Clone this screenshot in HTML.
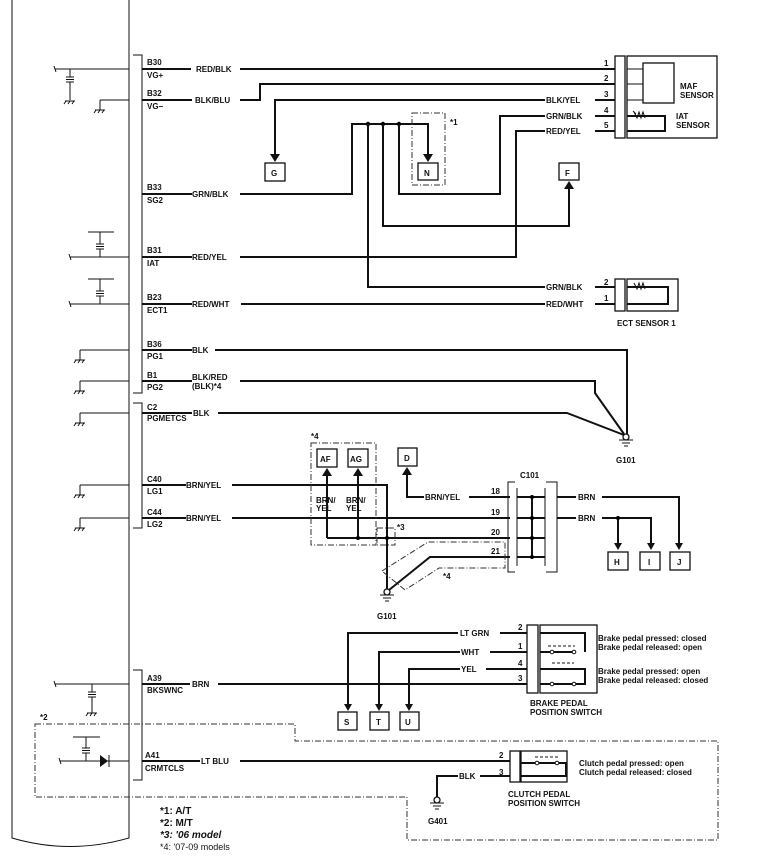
<!DOCTYPE html>
<html><head><style>
body{margin:0;background:#fff}
svg{display:block}
text{font-family:"Liberation Sans",Arial,sans-serif;font-weight:bold;font-size:8px;fill:#111}
.w{stroke:#111;stroke-width:2;fill:none}
.t{stroke:#111;stroke-width:1;fill:none}
.d{stroke:#333;stroke-width:1;fill:none;stroke-dasharray:6,2,1,2}
.b{stroke:#111;stroke-width:1.3;fill:#fff}
</style></head><body>
<svg width="761" height="861" viewBox="0 0 761 861" xmlns="http://www.w3.org/2000/svg">
<defs>
<g id="gnd"><path class="t" d="M-5,0 H5 M-4,0 l-2,3 M0,0 l-2,3 M4,0 l-2,3"/></g>
<g id="cap"><path class="t" d="M0,0 V8 M-4,8 H4 M-4,10.5 H4 M-4,13 H4 M0,13 V21"/></g>
<g id="eg"><circle cx="0" cy="0" r="3" fill="#fff" stroke="#111" stroke-width="1.3"/><path class="t" d="M-7,3 H7 M-4,6 H4 M-2,9 H2"/></g>
</defs>

<path class="t" d="M12,0 V838 Q70,855 129,838 V0"/>
<path class="t" d="M133,55 H142 V393 H133"/>
<path class="t" d="M133,403 H142 V528 H133"/>
<path class="t" d="M133,670 H142 V780 H133"/>

<!-- B30 -->
<path class="w" d="M142,69 H191 M240,69 H600"/>
<path class="t" d="M55,69 H129 M54,66 l2,6"/>
<use href="#cap" x="70" y="69"/><path class="t" d="M70,90 V100"/><use href="#gnd" x="70" y="101"/>
<text x="147" y="65">B30</text><text x="147" y="78">VG+</text><text x="196" y="72">RED/BLK</text>
<!-- B32 -->
<path class="w" d="M142,100 H192 M240,100 H260 V84 H600"/>
<path class="t" d="M100,100 H129 M100,100 V110"/><use href="#gnd" x="100" y="110"/>
<text x="147" y="96">B32</text><text x="147" y="109">VG−</text><text x="195" y="103">BLK/BLU</text>
<!-- pin3 -> G -->
<path class="w" d="M275,155 V100 H545 M595,100 H615"/>
<path d="M270,154 h10 l-5,8z" fill="#111"/>
<text x="546" y="103">BLK/YEL</text>
<rect class="b" x="265" y="163" width="20" height="18"/><text x="271" y="176">G</text>
<!-- MAF -->
<path class="w" d="M600,69 H615 M600,84 H615 M600,116 H615 M600,131 H615"/>
<text x="604" y="66">1</text><text x="604" y="81">2</text><text x="604" y="97">3</text><text x="604" y="113">4</text><text x="604" y="128">5</text>
<rect class="b" x="615" y="56" width="10" height="82"/>
<rect class="b" x="627" y="56" width="90" height="82"/>
<path class="t" d="M627,69 H643 M627,84 H643 M627,100 H643"/>
<rect class="b" x="643" y="63" width="31" height="40"/>
<path class="w" d="M627,116 H665 V131 H627"/>
<path class="t" d="M634,112 l3,6 2,-6 2,6 2,-6 2,6 M633,111 l3,3"/>
<text x="680" y="89">MAF</text><text x="680" y="98">SENSOR</text>
<text x="676" y="119">IAT</text><text x="676" y="128">SENSOR</text>
<!-- splice / N -->
<path class="w" d="M142,194 H192 M240,194 H352 V124 H428 V155"/>
<path d="M423,154 h10 l-5,8z" fill="#111"/>
<circle cx="368" cy="124" r="2.2"/><circle cx="383" cy="124" r="2.2"/><circle cx="399" cy="124" r="2.2"/>
<text x="147" y="190">B33</text><text x="147" y="203">SG2</text><text x="192" y="197">GRN/BLK</text>
<rect class="d" x="412" y="113" width="33" height="72"/><text x="450" y="125">*1</text>
<rect class="b" x="418" y="163" width="20" height="17"/><text x="424" y="176">N</text>
<path class="w" d="M399,124 V194 H500 V116 H545 M595,116 H600"/><text x="546" y="119">GRN/BLK</text>
<path class="w" d="M383,124 V226 H569 V188"/>
<path d="M564,189 h10 l-5,-8z" fill="#111"/>
<rect class="b" x="559" y="163" width="20" height="17"/><text x="565" y="176">F</text>
<path class="w" d="M600,131 H595 M545,131 H516 V257 H240 M192,257 H142"/><text x="546" y="134">RED/YEL</text>
<text x="147" y="253">B31</text><text x="147" y="266">IAT</text><text x="192" y="260">RED/YEL</text>
<path class="t" d="M70,257 H129 M69,254 l2,6 M88,232 H114 M100,232 V236"/><use href="#cap" x="100" y="236"/>
<path class="w" d="M368,124 V287 H545 M595,287 H615"/><text x="546" y="290">GRN/BLK</text>
<path class="w" d="M142,304 H192 M241,304 H545 M595,304 H615"/><text x="546" y="307">RED/WHT</text>
<text x="147" y="300">B23</text><text x="147" y="313">ECT1</text><text x="192" y="307">RED/WHT</text>
<path class="t" d="M70,304 H129 M69,301 l2,6 M88,279 H114 M100,279 V283"/><use href="#cap" x="100" y="283"/>
<text x="604" y="285">2</text><text x="604" y="301">1</text>
<rect class="b" x="615" y="279" width="10" height="32"/><rect class="b" x="627" y="279" width="51" height="32"/>
<path class="w" d="M627,287 H668 V304 H627"/><path class="t" d="M634,283 l3,6 2,-6 2,6 2,-6 2,6"/>
<text x="617" y="326">ECT SENSOR 1</text>
<!-- grounds -->
<path class="w" d="M142,350 H192 M215,350 H627 V434"/>
<path class="w" d="M142,381 H192 M240,381 H595 V393 L624,434"/>
<path class="w" d="M142,413 H192 M218,413 H567 L624,435"/>
<use href="#eg" x="626" y="437"/><text x="616" y="463">G101</text>
<text x="147" y="347">B36</text><text x="147" y="359">PG1</text><text x="192" y="353">BLK</text>
<text x="147" y="378">B1</text><text x="147" y="390">PG2</text><text x="192" y="380">BLK/RED</text><text x="192" y="389">(BLK)*4</text>
<text x="147" y="410">C2</text><text x="147" y="421">PGMETCS</text><text x="193" y="416">BLK</text>
<path class="t" d="M80,350 H129 M80,350 V360 M80,381 H129 M80,381 V391 M80,413 H129 M80,413 V423"/>
<use href="#gnd" x="80" y="360"/><use href="#gnd" x="80" y="391"/><use href="#gnd" x="80" y="423"/>
<!-- C40/C44 -->
<path class="t" d="M80,485 H129 M80,485 V495 M80,518 H129 M80,518 V528"/>
<use href="#gnd" x="80" y="495"/><use href="#gnd" x="80" y="528"/>
<text x="147" y="482">C40</text><text x="147" y="494">LG1</text><text x="186" y="488">BRN/YEL</text>
<text x="147" y="515">C44</text><text x="147" y="527">LG2</text><text x="186" y="521">BRN/YEL</text>
<path class="w" d="M142,485 H186 M232,485 H387 V589"/>
<path class="w" d="M142,518 H186 M232,518 H510"/>
<path class="w" d="M327,538 H510 M327,538 V475 M358,538 V475"/>
<path d="M322,476 h10 l-5,-8z M353,476 h10 l-5,-8z" fill="#111"/>
<circle cx="358" cy="538" r="2"/><circle cx="387" cy="538" r="2"/>
<rect class="b" x="317" y="449" width="20" height="18"/><text x="320" y="462">AF</text>
<rect class="b" x="348" y="449" width="20" height="18"/><text x="350" y="462">AG</text>
<text x="316" y="503">BRN/</text><text x="316" y="511">YEL</text>
<text x="346" y="503">BRN/</text><text x="346" y="511">YEL</text>
<rect class="d" x="311" y="443" width="65" height="102"/><text x="311" y="439">*4</text>
<rect class="d" x="377" y="528" width="18" height="17"/><text x="397" y="530">*3</text>
<path class="w" d="M510,557 H430 L389,590"/>
<path class="d" d="M382,571 L428,542 H505 V568 H439 L405,590 Z"/><text x="443" y="579">*4</text>
<use href="#eg" x="387" y="592"/><text x="377" y="619">G101</text>
<!-- D -->
<path class="w" d="M407,474 V497 H424 M469,497 H510"/>
<path d="M402,475 h10 l-5,-8z" fill="#111"/>
<rect class="b" x="398" y="448" width="19" height="18"/><text x="404" y="461">D</text>
<text x="425" y="500">BRN/YEL</text>
<text x="491" y="494">18</text><text x="491" y="515">19</text><text x="491" y="535">20</text><text x="491" y="554">21</text>
<!-- C101 -->
<text x="520" y="478">C101</text>
<path class="t" d="M515,482 H508 V572 H515 M546,482 H557 V572 H546"/>
<path class="t" d="M517,488 V566 M545,488 V566"/>
<path class="w" d="M517,497 H545 M517,518 H545 M517,538 H545 M517,557 H545 M532,497 V557"/>
<circle cx="532" cy="497" r="2"/><circle cx="532" cy="518" r="2"/><circle cx="532" cy="538" r="2"/><circle cx="532" cy="557" r="2"/>
<path class="w" d="M557,497 H576 M602,497 H679 V545 M557,518 H576 M602,518 H651 V545 M618,518 V545"/>
<circle cx="618" cy="518" r="2"/>
<path d="M675,543 h8 l-4,7z M647,543 h8 l-4,7z M614,543 h8 l-4,7z" fill="#111"/>
<text x="578" y="500">BRN</text><text x="578" y="521">BRN</text>
<rect class="b" x="608" y="552" width="20" height="18"/><text x="614" y="565">H</text>
<rect class="b" x="640" y="552" width="20" height="18"/><text x="648" y="565">I</text>
<rect class="b" x="670" y="552" width="20" height="18"/><text x="677" y="565">J</text>
<!-- brake -->
<path class="w" d="M348,706 V633 H458 M500,633 H527 M379,706 V652 H460 M490,652 H527 M409,706 V669 H460 M486,669 H527"/>
<path d="M344,704 h8 l-4,7z M375,704 h8 l-4,7z M405,704 h8 l-4,7z" fill="#111"/>
<text x="460" y="636">LT GRN</text><text x="461" y="655">WHT</text><text x="461" y="672">YEL</text>
<text x="518" y="630">2</text><text x="518" y="649">1</text><text x="518" y="666">4</text><text x="518" y="681">3</text>
<path class="w" d="M142,684 H190 M218,684 H527"/>
<text x="147" y="681">A39</text><text x="147" y="693">BKSWNC</text><text x="192" y="687">BRN</text>
<path class="t" d="M55,684 H129 M54,681 l2,6"/><use href="#cap" x="92" y="684"/><path class="t" d="M92,705 V713"/><use href="#gnd" x="92" y="713"/>
<rect class="b" x="527" y="625" width="11" height="68"/><rect class="b" x="540" y="625" width="57" height="68"/>
<path class="w" d="M540,633 H585 V652 M540,652 H573 M540,669 H585 V684 H540"/>
<path class="t" d="M548,646 H575 M552,663 H574" stroke-dasharray="3,2"/>
<circle cx="552" cy="652" r="1.8" fill="#fff" stroke="#111"/><circle cx="574" cy="652" r="1.8" fill="#fff" stroke="#111"/>
<circle cx="552" cy="684" r="1.8" fill="#fff" stroke="#111"/><circle cx="574" cy="684" r="1.8" fill="#fff" stroke="#111"/>
<text x="598" y="641">Brake pedal pressed: closed</text><text x="598" y="650">Brake pedal released: open</text>
<text x="598" y="674">Brake pedal pressed: open</text><text x="598" y="683">Brake pedal released: closed</text>
<text x="530" y="706">BRAKE PEDAL</text><text x="530" y="715">POSITION SWITCH</text>
<rect class="b" x="338" y="712" width="19" height="18"/><text x="344" y="725">S</text>
<rect class="b" x="370" y="712" width="19" height="18"/><text x="376" y="725">T</text>
<rect class="b" x="400" y="712" width="19" height="18"/><text x="405" y="725">U</text>
<!-- M/T -->
<path class="d" d="M35,724 H295 V741 H718 V840 H407 V797 H35 Z"/><text x="40" y="720">*2</text>
<path class="t" d="M60,761 H129 M59,758 l2,6 M73,737 H100 M86,737 V741"/><use href="#cap" x="86" y="740"/>
<path d="M100,755 L108,761 L100,767 Z" fill="#111"/><path class="t" d="M109,755 V767"/>
<path class="w" d="M142,761 H200 M240,761 H510"/>
<text x="145" y="758">A41</text><text x="145" y="771">CRMTCLS</text><text x="201" y="764">LT BLU</text>
<text x="499" y="758">2</text><text x="499" y="775">3</text>
<rect class="b" x="510" y="751" width="10" height="31"/><rect class="b" x="521" y="751" width="46" height="31"/>
<path class="w" d="M521,763 H567 M521,776 H567 M566,763 V776"/>
<circle cx="537" cy="763" r="1.8" fill="#fff" stroke="#111"/><circle cx="557" cy="763" r="1.8" fill="#fff" stroke="#111"/>
<path class="t" d="M535,757 H560" stroke-dasharray="3,2"/>
<text x="579" y="766">Clutch pedal pressed: open</text><text x="579" y="775">Clutch pedal released: closed</text>
<text x="508" y="797">CLUTCH PEDAL</text><text x="508" y="806">POSITION SWITCH</text>
<path class="w" d="M437,797 V776 H458 M480,776 H510"/><text x="459" y="779">BLK</text>
<use href="#eg" x="437" y="800"/><text x="428" y="824">G401</text>
<!-- notes -->
<text x="160" y="814" style="font-size:10px">*1: A/T</text>
<text x="160" y="826" style="font-size:10px">*2: M/T</text>
<text x="160" y="838" style="font-size:10px;font-style:italic">*3: '06 model</text>
<text x="160" y="850" style="font-size:9px;font-weight:normal">*4: '07-09 models</text>
</svg>
</body></html>
